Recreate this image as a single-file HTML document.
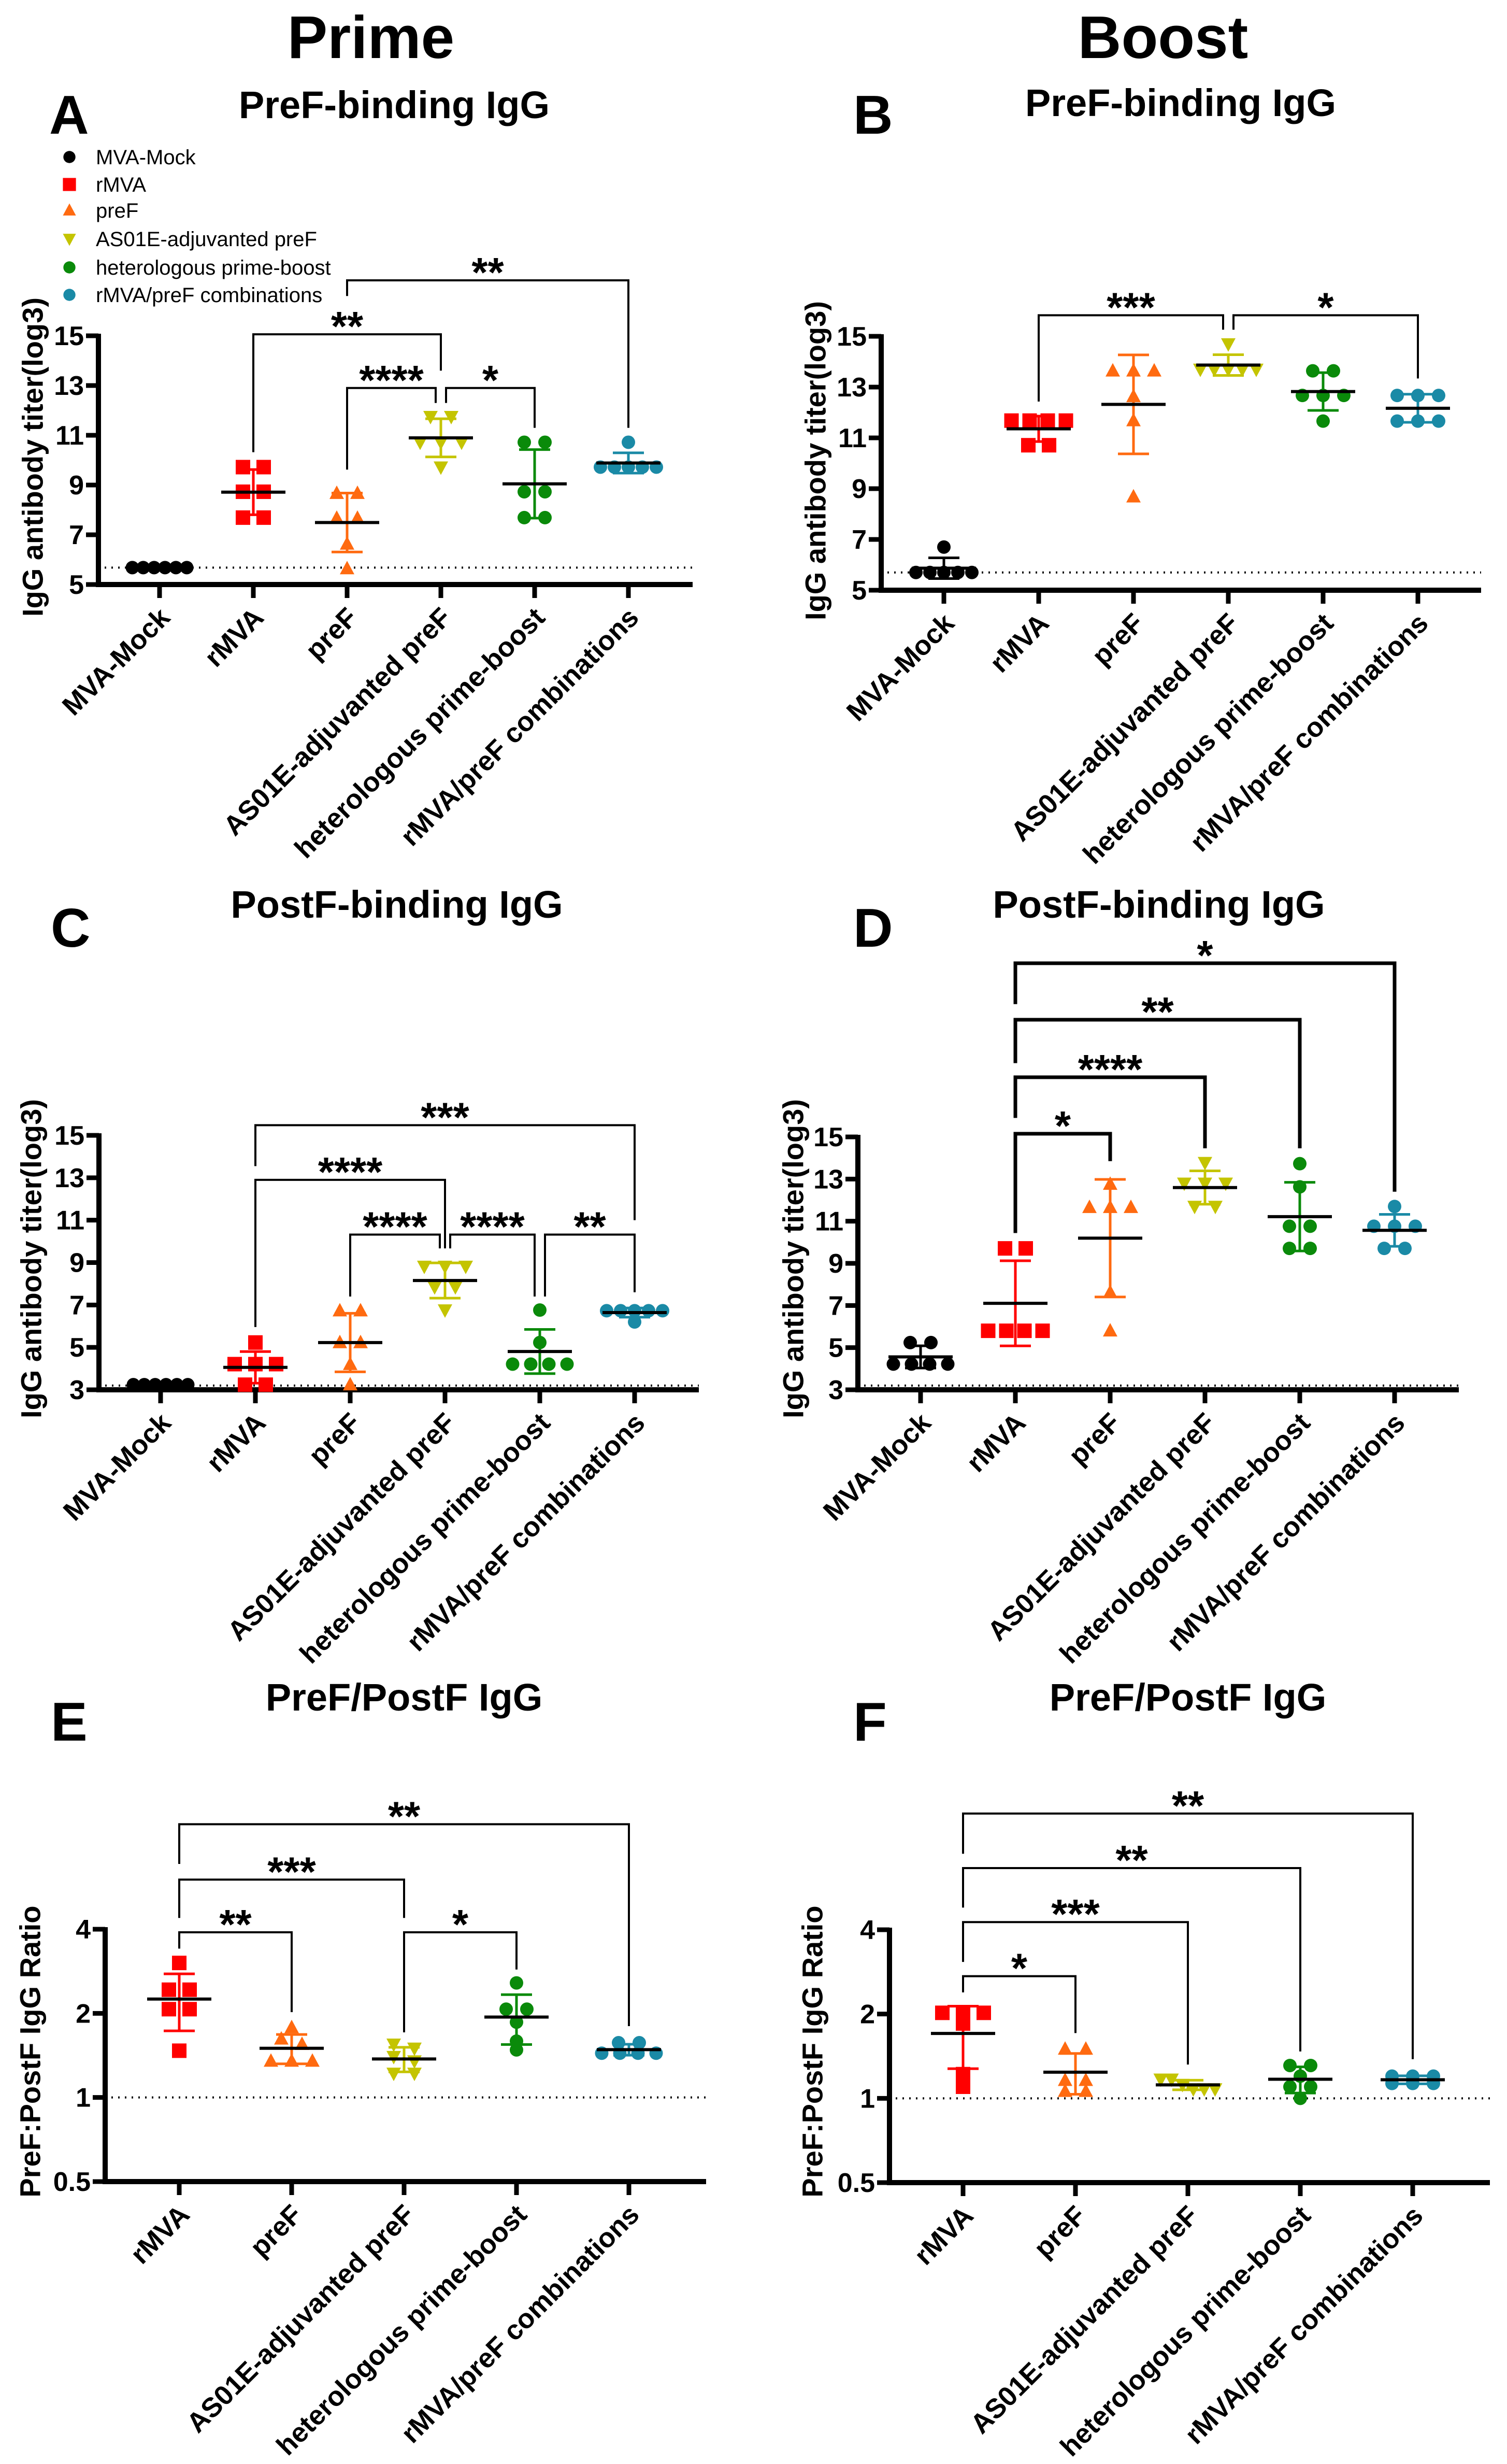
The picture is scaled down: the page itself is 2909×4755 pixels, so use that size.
<!DOCTYPE html>
<html><head><meta charset="utf-8"><title>Prime / Boost IgG</title>
<style>
html,body{margin:0;padding:0;background:#fff;}
svg{display:block;font-family:"Liberation Sans",Arial,sans-serif;}
</style></head>
<body>
<svg id="fig" width="2909" height="4755" viewBox="0 0 2909 4755" xmlns="http://www.w3.org/2000/svg">
<rect x="0" y="0" width="2909" height="4755" fill="#fff"/>
<text x="716" y="112" font-size="116" font-weight="bold" text-anchor="middle">Prime</text>
<text x="2245" y="112" font-size="116" font-weight="bold" text-anchor="middle">Boost</text>
</svg>
<script>
// ---------- categories ----------
const catsFull = ["MVA-Mock","rMVA","preF","AS01E-adjuvanted preF","heterologous prime-boost","rMVA/preF combinations"];
const catsRatio = ["rMVA","preF","AS01E-adjuvanted preF","heterologous prime-boost","rMVA/preF combinations"];
const ticksTiter15 = [5,7,9,11,13,15];
const ticksTiter3 = [3,5,7,9,11,13,15];
const ticksRatio = [0.5,1,2,4];
const tickLabelsRatio = ["0.5","1","2","4"];

// ---------- Panel A (Prime PreF) ----------
const A_mock = [5.68,5.68,5.68,5.68,5.68,5.68];
const A_rmva = [9.72,9.72,8.73,8.73,7.69,7.69];
const A_pref = [8.67,8.67,7.67,7.67,6.63,5.64];
const A_as01 = [11.75,11.75,10.72,10.72,10.72,9.72];
const A_het = [10.72,10.72,8.73,8.73,7.69,7.69];
const A_comb = [10.72,9.72,9.72,9.72,9.72,9.72];
const A_brackets = [[2,5,17.23,16.6,11.3,"**"],[1,3,15.06,10.32,13.6,"**"],[2,3,12.9,9.62,12.3,"****"],[3,4,12.9,12.3,11.3,"*"]];

// ---------- Panel B (Boost PreF) ----------
const B_mock = [6.7,5.7,5.7,5.7,5.7,5.7];
const B_rmva = [11.68,11.68,11.68,11.68,10.71,10.71];
const B_pref = [13.64,13.64,13.64,12.63,11.68,8.68];
const B_as01 = [14.7,13.7,13.7,13.7,13.7,13.7];
const B_het = [13.64,13.64,12.67,12.67,12.67,11.66];
const B_comb = [12.67,12.67,12.67,11.66,11.66,11.66];
const B_brackets = [[1,3,15.83,12.43,15.26,"***"],[3,5,15.83,15.26,13.34,"*"]];

// ---------- Panel C (Prime PostF) ----------
const C_mock = [3.24,3.24,3.24,3.24,3.24,3.24];
const C_rmva = [5.23,4.21,4.21,4.21,3.24,3.24];
const C_pref = [6.73,6.73,5.23,5.23,4.2,3.24];
const C_as01 = [8.82,8.82,8.82,7.85,7.85,6.76];
const C_het = [6.76,5.23,4.21,4.21,4.21,4.21];
const C_comb = [6.73,6.73,6.73,6.73,6.73,6.2];
const C_brackets = [[1,5,15.48,13.55,11.0,"***"],[1,3,12.9,5.96,9.67,"****"],[2,3,10.32,7.4,9.67,"****"],[3,4,10.32,9.67,7.4,"****"],[4,5,10.32,7.4,7.6,"**"]];

// ---------- Panel D (Boost PostF) ----------
const D_mock = [5.24,5.24,4.22,4.22,4.22,4.22];
const D_rmva = [9.71,9.71,5.8,5.8,5.8,5.8];
const D_pref = [12.76,11.66,11.66,11.66,7.63,5.8];
const D_as01 = [13.78,12.8,12.8,12.8,11.7,11.7];
const D_het = [13.73,12.63,10.76,10.76,9.71,9.71];
const D_comb = [11.7,10.76,10.76,10.76,9.71,9.71];
const D_brackets = [[1,5,23.24,21.3,12.4,"*"],[1,4,20.56,18.5,14.46,"**"],[1,3,17.83,15.9,14.46,"****"],[1,2,15.15,10.44,13.85,"*"]];

// ---------- Panel E (Prime ratio) ----------
const E_rmva = [3.03,2.43,2.43,2.07,2.07,1.47];
const E_pref = [1.78,1.62,1.55,1.35,1.35,1.35];
const E_as01 = [1.55,1.5,1.4,1.35,1.22,1.22];
const E_het = [2.57,2.07,2.07,1.86,1.59,1.48];
const E_comb = [1.57,1.57,1.44,1.44,1.44,1.44];
const E_brackets = [[0,4,9.5,6.85,1.8,"**"],[0,2,6.02,4.39,4.39,"***"],[0,1,3.9,3.41,2.02,"**"],[2,3,3.9,1.71,2.87,"*"]];

// ---------- Panel F (Boost ratio) ----------
const F_rmva = [2.02,2.02,2.02,1.85,1.22,1.1];
const F_pref = [1.5,1.5,1.16,1.16,1.06,1.06];
const F_as01 = [1.17,1.17,1.12,1.08,1.08,1.08];
const F_het = [1.31,1.31,1.2,1.1,1.1,1.0];
const F_comb = [1.2,1.2,1.2,1.13,1.13,1.13];
const F_brackets = [[0,4,10.4,7.47,1.38,"**"],[0,3,6.64,4.8,1.47,"**"],[0,2,4.26,3.07,1.32,"***"],[0,1,2.73,2.39,1.71,"*"]];

// ---------- styles ----------
const NS = "http://www.w3.org/2000/svg";
const svg = document.getElementById("fig");
const groupStyle = {
  "MVA-Mock":{c:"#000000",m:"circle"},
  "rMVA":{c:"#ff0000",m:"square"},
  "preF":{c:"#ff6a10",m:"up"},
  "AS01E-adjuvanted preF":{c:"#c4c400",m:"down"},
  "heterologous prime-boost":{c:"#0a8a0a",m:"circle"},
  "rMVA/preF combinations":{c:"#1a8aa6",m:"circle"}
};
function mk(tag, attrs, parent){
  const e = document.createElementNS(NS, tag);
  for (const k in attrs) e.setAttribute(k, attrs[k]);
  (parent || svg).appendChild(e);
  return e;
}
function slug(s){return s.toLowerCase().replace(/[^a-z0-9]+/g,"-").replace(/^-|-$/g,"");}
function marker(kind, x, y, color, parent, s){
  s = s || 1;
  let el;
  if (kind === "circle") el = mk("circle",{cx:x,cy:y,r:13*s,fill:color},parent);
  else if (kind === "square") el = mk("rect",{x:x-14*s,y:y-14*s,width:28*s,height:28*s,fill:color},parent);
  else if (kind === "up") el = mk("polygon",{points:`${x},${y-15*s} ${x+14*s},${y+11*s} ${x-14*s},${y+11*s}`,fill:color},parent);
  else el = mk("polygon",{points:`${x},${y+15*s} ${x+14*s},${y-11*s} ${x-14*s},${y-11*s}`,fill:color},parent);
  return el;
}

function panel(cfg, cats, groups, brackets){
  const g = mk("g",{});
  
  
  const lg = v => cfg.log ? Math.log2(v) : v;
  const ySc = v => cfg.yBot - (lg(v) - lg(cfg.vMin)) / (lg(cfg.vMax) - lg(cfg.vMin)) * (cfg.yBot - cfg.yTop);
  const xSc = i => cfg.cat0 + i * cfg.step;

  const L = mk("text",{x:cfg.letterX,y:cfg.letterY,"font-size":106,"font-weight":"bold"},g);
  L.textContent = cfg.id;
  
  
  const T = mk("text",{x:cfg.titleX,y:cfg.titleY,"font-size":74,"font-weight":"bold","text-anchor":"middle"},g);
  T.textContent = cfg.title;
  
  
  const YL = mk("text",{x:0,y:0,"font-size":56,"font-weight":"bold","text-anchor":"middle",transform:`translate(${cfg.ylabX},${cfg.ylabY}) rotate(-90)`,"dominant-baseline":"central"},g);
  YL.textContent = cfg.ylab;
  
  

  const dl = mk("line",{x1:cfg.ax+12,x2:cfg.xEnd,y1:ySc(cfg.dotted),y2:ySc(cfg.dotted),stroke:"#000","stroke-width":4,"stroke-dasharray":"3 10"},g);
  
  

  const ya = mk("line",{x1:cfg.ax,x2:cfg.ax,y1:cfg.yTop-4,y2:cfg.yBot+5,stroke:"#000","stroke-width":10},g);
  
  
  const xa = mk("line",{x1:cfg.ax-5,x2:cfg.xEnd,y1:cfg.yBot,y2:cfg.yBot,stroke:"#000","stroke-width":10},g);
  
  
  cfg.ticks.forEach((t,k) => {
    const y = ySc(t);
    const tk = mk("line",{x1:cfg.ax-24,x2:cfg.ax,y1:y,y2:y,stroke:"#000","stroke-width":9},g);
    
    
    const tl = mk("text",{x:cfg.ax-28,y:y+18,"font-size":52,"font-weight":"bold","text-anchor":"end"},g);
    tl.textContent = cfg.tickLabels ? cfg.tickLabels[k] : String(t);
    
    
  });
  cats.forEach((c,i) => {
    const x = xSc(i);
    const tk = mk("line",{x1:x,x2:x,y1:cfg.yBot,y2:cfg.yBot+26,stroke:"#000","stroke-width":9},g);
    
    
    const xl = mk("text",{x:0,y:0,"font-size":53,"font-weight":"bold","text-anchor":"end",transform:`translate(${x+23},${cfg.yBot+67}) rotate(-45)`},g);
    xl.textContent = c;
    
    
  });

  groups.forEach((vals,i) => {
    const st = groupStyle[cats[i]];
    const x = xSc(i);
    const gg = mk("g",{},g);
    
    
    const n = vals.length;
    const mean = vals.reduce((a,b)=>a+b,0)/n;
    const sd = Math.sqrt(vals.reduce((a,b)=>a+(b-mean)*(b-mean),0)/(n-1));
    const sorted = vals.map(v=>({v,y:ySc(v)})).sort((a,b)=>a.y-b.y);
    const clusters = [];
    sorted.forEach(p => {
      const last = clusters[clusters.length-1];
      if (last && Math.abs(last[last.length-1].y - p.y) < 12) last.push(p); else clusters.push([p]);
    });
    clusters.forEach(cl => {
      const m = cl.length;
      const sp = m <= 3 ? 40 : (m === 4 ? 35 : (m === 5 ? 27 : 21));
      cl.forEach((p,k) => {
        const mk1 = marker(st.m, x + (k - (m-1)/2) * sp, p.y, st.c, gg);
        
        
      });
    });
    const yHi = ySc(mean + sd), yLo = ySc(Math.max(mean - sd, cfg.log ? 0.01 : -1e9));
    const eb = mk("line",{x1:x,x2:x,y1:yHi,y2:yLo,stroke:st.c,"stroke-width":5},gg);
    
    
    [yHi,yLo].forEach(yy => {
      const cap = mk("line",{x1:x-30,x2:x+30,y1:yy,y2:yy,stroke:st.c,"stroke-width":5},gg);
      
      
    });
    const ml = mk("line",{x1:x-62,x2:x+62,y1:ySc(mean),y2:ySc(mean),stroke:"#000","stroke-width":6},gg);
    
    
  });

  brackets.forEach(b => {
    const [i,j,v,lv,rv,lab] = b;
    let xl = xSc(i), xr = xSc(j);
    if (brackets.some(o => o !== b && o[1] === i && o[2] === v)) xl += 10;
    if (brackets.some(o => o !== b && o[0] === j && o[2] === v)) xr -= 10;
    const y = ySc(v);
    const bg = mk("g",{},g);
    
    
    mk("polyline",{points:`${xl},${ySc(lv)} ${xl},${y} ${xr},${y} ${xr},${ySc(rv)}`,fill:"none",stroke:"#000","stroke-width":cfg.bw},bg);
    const st = mk("text",{x:(xl+xr)/2,y:y+12,"font-size":80,"font-weight":"bold","text-anchor":"middle"},bg);
    st.textContent = lab;
    
    
  });
}

panel({id:"A",title:"PreF-binding IgG",titleX:761,titleY:228,letterX:95,letterY:258,ylab:"IgG antibody titer(log3)",ylabX:63,ylabY:882,
  ax:190,xEnd:1337,cat0:308,step:181,yTop:648,yBot:1128,vMin:5,vMax:15,log:false,ticks:ticksTiter15,dotted:5.68,bw:4},
  catsFull,[A_mock,A_rmva,A_pref,A_as01,A_het,A_comb],A_brackets);
panel({id:"B",title:"PreF-binding IgG",titleX:2279,titleY:224,letterX:1647,letterY:258,ylab:"IgG antibody titer(log3)",ylabX:1574,ylabY:889,
  ax:1701,xEnd:2859,cat0:1822,step:183,yTop:649,yBot:1139,vMin:5,vMax:15,log:false,ticks:ticksTiter15,dotted:5.7,bw:4},
  catsFull,[B_mock,B_rmva,B_pref,B_as01,B_het,B_comb],B_brackets);
panel({id:"C",title:"PostF-binding IgG",titleX:766,titleY:1771,letterX:98,letterY:1827,ylab:"IgG antibody titer(log3)",ylabX:60,ylabY:2429,
  ax:191,xEnd:1349,cat0:310,step:183,yTop:2191,yBot:2682,vMin:3,vMax:15,log:false,ticks:ticksTiter3,dotted:3.2,bw:4},
  catsFull,[C_mock,C_rmva,C_pref,C_as01,C_het,C_comb],C_brackets);
panel({id:"D",title:"PostF-binding IgG",titleX:2237,titleY:1771,letterX:1647,letterY:1827,ylab:"IgG antibody titer(log3)",ylabX:1531,ylabY:2429,
  ax:1656,xEnd:2816,cat0:1777,step:183,yTop:2194,yBot:2682,vMin:3,vMax:15,log:false,ticks:ticksTiter3,dotted:3.2,bw:7},
  catsFull,[D_mock,D_rmva,D_pref,D_as01,D_het,D_comb],D_brackets);
panel({id:"E",title:"PreF/PostF IgG",titleX:780,titleY:3301,letterX:98,letterY:3359,ylab:"PreF:PostF IgG Ratio",ylabX:58,ylabY:3959,
  ax:203,xEnd:1363,cat0:346,step:217,yTop:3723,yBot:4210,vMin:0.5,vMax:4,log:true,ticks:ticksRatio,tickLabels:tickLabelsRatio,dotted:1,bw:4},
  catsRatio,[E_rmva,E_pref,E_as01,E_het,E_comb],E_brackets);
panel({id:"F",title:"PreF/PostF IgG",titleX:2293,titleY:3301,letterX:1647,letterY:3359,ylab:"PreF:PostF IgG Ratio",ylabX:1568,ylabY:3959,
  ax:1717,xEnd:2876,cat0:1859,step:217,yTop:3724,yBot:4212,vMin:0.5,vMax:4,log:true,ticks:ticksRatio,tickLabels:tickLabelsRatio,dotted:1,bw:4},
  catsRatio,[F_rmva,F_pref,F_as01,F_het,F_comb],F_brackets);

// legend (panel A)
const legendRows = [303,356,406,461,516,569];
const leg = mk("g",{});


catsFull.forEach((c,i) => {
  const st = groupStyle[c];
  const y = legendRows[i];
  const e = mk("g",{},leg);
  
  
  const m = marker(st.m, 134, y, st.c, e, 0.9);
  
  
  const t = mk("text",{x:185,y:y+14,"font-size":40},e);
  t.textContent = c;
  
  
});
</script>
</body></html>
